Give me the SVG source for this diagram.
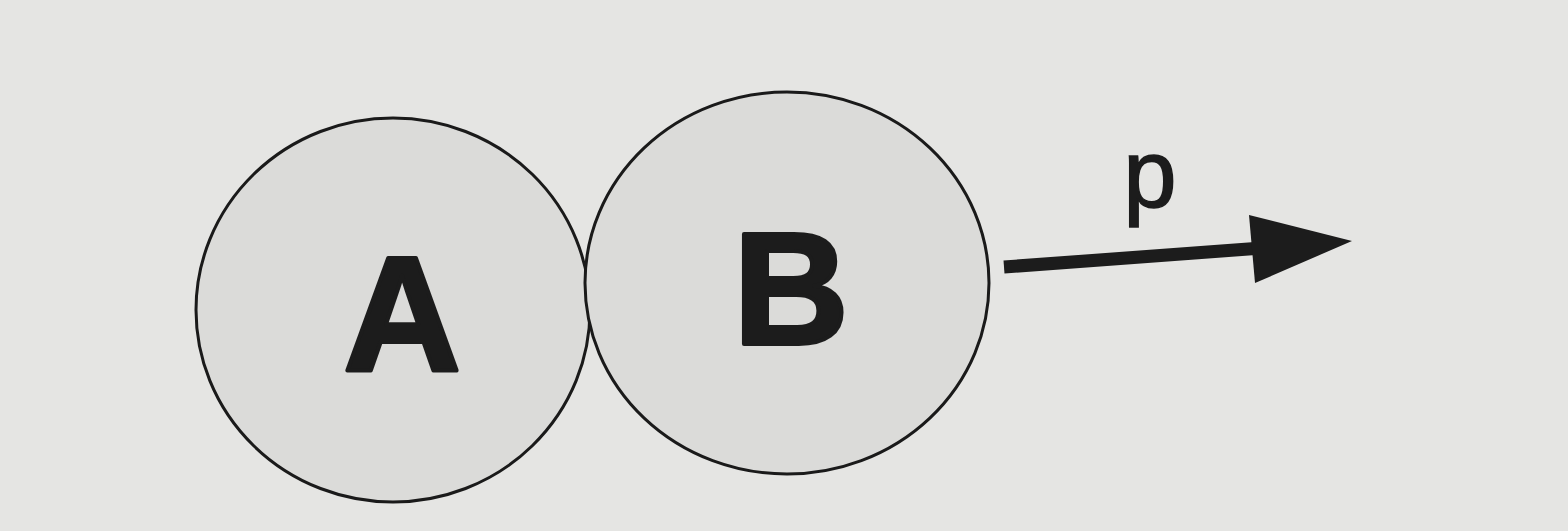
<svg xmlns="http://www.w3.org/2000/svg" width="1568" height="531" viewBox="0 0 1568 531">
<style>
.node{fill:#dbdbd9;stroke:#1a1a1a;stroke-width:3}
.lbl{font-family:"Liberation Sans",Arial,sans-serif;font-weight:bold;fill:#1c1c1c;stroke:#1c1c1c;stroke-width:4;stroke-linejoin:round;text-anchor:middle}
.p{font-family:"Liberation Sans",Arial,sans-serif;fill:#1c1c1c;stroke:#1c1c1c;stroke-width:1.5;text-anchor:middle}
</style>
<rect width="1568" height="531" fill="#e5e5e3"/>
<g id="nodeA">
<ellipse class="node" cx="393" cy="310" rx="197" ry="192"/>
<text class="lbl" x="402" y="371" font-size="163">A</text>
</g>
<g id="nodeB">
<ellipse class="node" cx="787" cy="283" rx="202" ry="191"/>
<text class="lbl" x="791" y="344" font-size="160">B</text>
</g>
<g id="connectors">
<line x1="1004" y1="267" x2="1262" y2="248" stroke="#1c1c1c" stroke-width="13"/>
<polygon points="1249,215 1352,241 1255,283" fill="#1c1c1c"/>
<text class="p" x="1150" y="207" font-size="96">p</text>
</g>
</svg>
